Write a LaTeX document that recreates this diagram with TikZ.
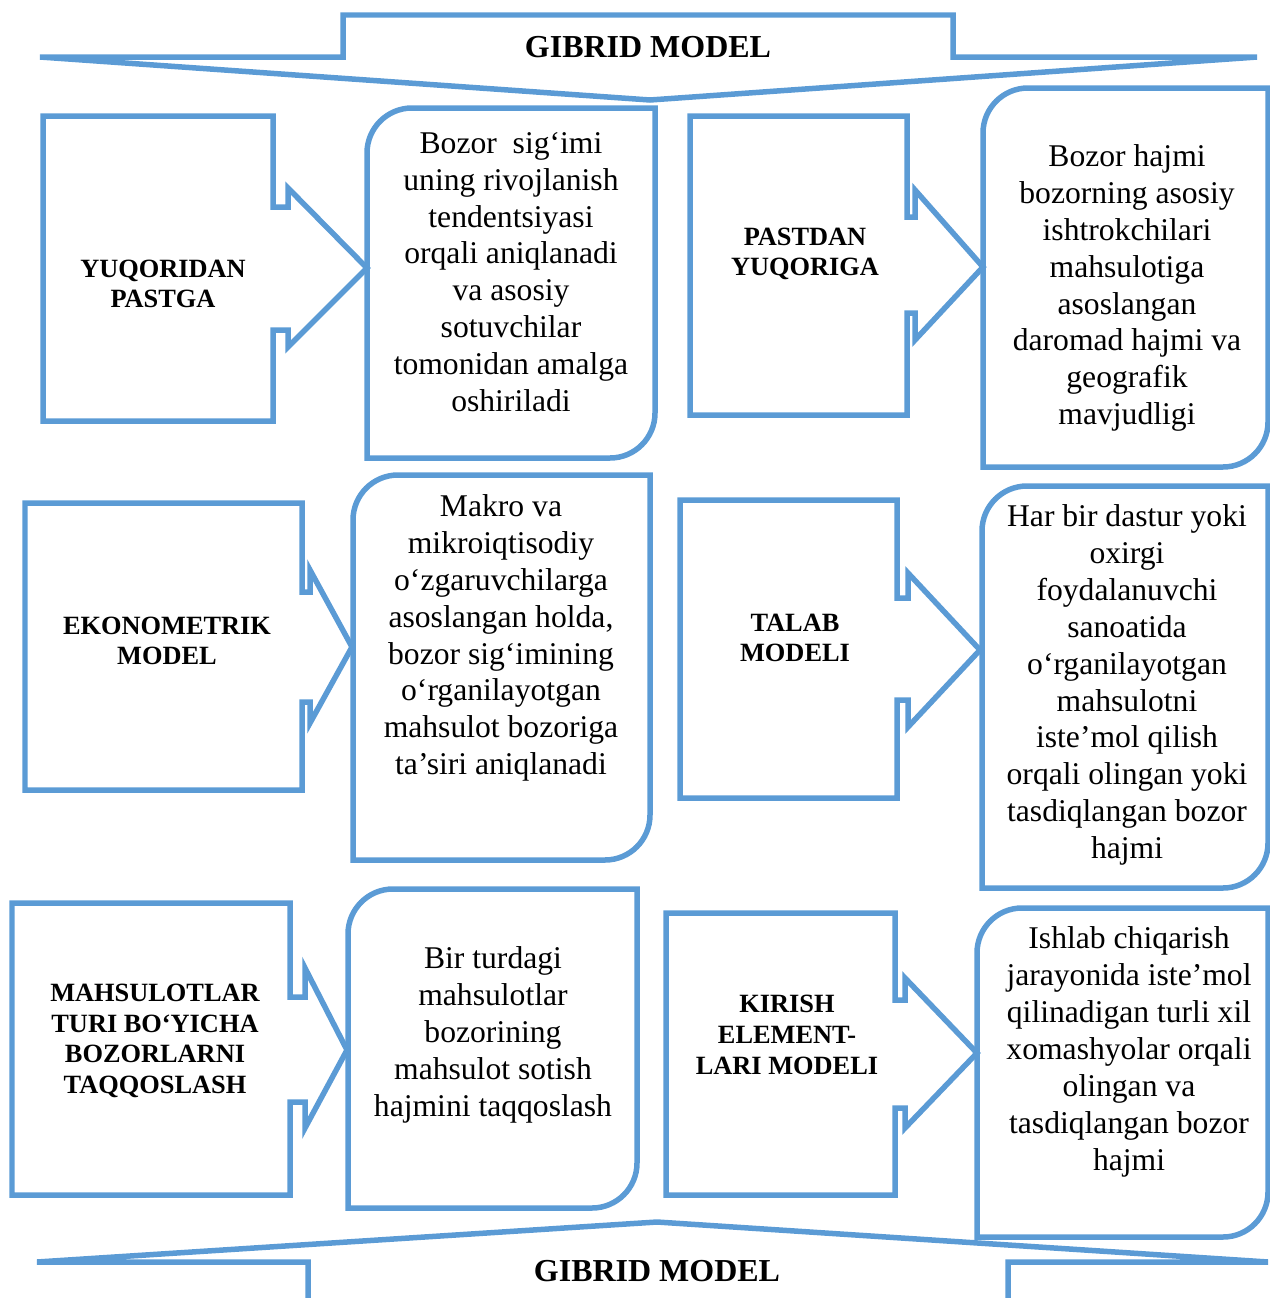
\documentclass[tikz,border=0pt]{standalone}
\usepackage{fontspec}
\setmainfont{Liberation Serif}
\definecolor{boxblue}{RGB}{91,155,213}
\begin{document}
\begin{tikzpicture}[x=0.02cm,y=-0.02cm]
    \tikzstyle{every node}+=[inner sep=0pt, align=center]
    \tikzstyle{outline}=[draw=boxblue, line width=1.1mm]
    \tikzstyle{body}=[font=\fontsize{18}{21}\selectfont]
    \tikzstyle{head}=[font=\fontsize{15}{17.5}\selectfont\bfseries]
    \tikzstyle{banner}=[font=\fontsize{18.2}{22}\selectfont\bfseries]
    \useasboundingbox (0,0) rectangle (1270,1298);
    \clip (0,0) rectangle (1270,1298);
    % top banner
    \draw [outline] (40,57) -- (343,57) -- (343,15) -- (953,15) -- (953,57) -- (1257,57) -- (650,100) -- cycle;
    \node [banner] (gibridtop) at (648,47) {GIBRID MODEL};
    % row 1
    \draw [outline] (43,116) -- (273,116) -- (273,207) -- (288,207) -- (288,188) -- (367,268) -- (288,347) -- (288,330) -- (273,330) -- (273,421) -- (43,421) -- cycle;
    \node [head] (yuqori) at (163,284) {YUQORIDAN\\PASTGA};
    \draw [outline] (655,108) -- (655,280) [rounded corners=0.9cm] -- (655,458) -- (510,458) [sharp corners] -- (367,458) -- (367,280) [rounded corners=0.9cm] -- (367,108) -- (510,108) [sharp corners] -- cycle;
    \node [body] (yuqoritxt) at (511,272) {Bozor~ sig‘imi\\uning rivojlanish\\tendentsiyasi\\orqali aniqlanadi\\va asosiy\\sotuvchilar\\tomonidan amalga\\oshiriladi};
    \draw [outline] (690,116) -- (907,116) -- (907,217) -- (915,217) -- (915,190) -- (983,267) -- (915,340) -- (915,313) -- (907,313) -- (907,415) -- (690,415) -- cycle;
    \node [head] (pastdan) at (805,254) {PASTDAN\\YUQORIGA};
    \draw [outline] (1268,88) -- (1268,280) [rounded corners=0.9cm] -- (1268,467) -- (1120,467) [sharp corners] -- (983,467) -- (983,280) [rounded corners=0.9cm] -- (983,88) -- (1120,88) [sharp corners] -- cycle;
    \node [body] (pastdantxt) at (1127,288) {Bozor hajmi\\bozorning asosiy\\ishtrokchilari\\mahsulotiga\\asoslangan\\daromad hajmi va\\geografik\\mavjudligi};
    % row 2
    \draw [outline] (25,503) -- (302,503) -- (302,592) -- (310,592) -- (310,570) -- (352,647) -- (310,723) -- (310,702) -- (302,702) -- (302,790) -- (25,790) -- cycle;
    \node [head] (ekonom) at (167,641) {EKONOMETRIK\\MODEL};
    \draw [outline] (650,475) -- (650,660) [rounded corners=0.9cm] -- (650,860) -- (500,860) [sharp corners] -- (353,860) -- (353,660) [rounded corners=0.9cm] -- (353,475) -- (500,475) [sharp corners] -- cycle;
    \node [body] (ekonomtxt) at (501,638) {Makro va\\mikroiqtisodiy\\o‘zgaruvchilarga\\asoslangan holda,\\bozor sig‘imining\\o‘rganilayotgan\\mahsulot bozoriga\\ta’siri aniqlanadi};
    \draw [outline] (680,500) -- (897,500) -- (897,598) -- (908,598) -- (908,573) -- (980,650) -- (908,727) -- (908,700) -- (897,700) -- (897,798) -- (680,798) -- cycle;
    \node [head] (talab) at (795,638) {TALAB\\MODELI};
    \draw [outline] (1268,486) -- (1268,680) [rounded corners=0.9cm] -- (1268,888) -- (1120,888) [sharp corners] -- (982,888) -- (982,680) [rounded corners=0.9cm] -- (982,486) -- (1120,486) [sharp corners] -- cycle;
    \node [body] (talabtxt) at (1127,685) {Har bir dastur yoki\\oxirgi\\foydalanuvchi\\sanoatida\\o‘rganilayotgan\\mahsulotni\\iste’mol qilish\\orqali olingan yoki\\tasdiqlangan bozor\\hajmi};
    % row 3
    \draw [outline] (12,903) -- (290,903) -- (290,997) -- (305,997) -- (305,968) -- (347,1050) -- (305,1128) -- (305,1102) -- (290,1102) -- (290,1195) -- (12,1195) -- cycle;
    \node [head] (mahsulot) at (155,1041) {MAHSULOTLAR\\TURI BO‘YICHA\\BOZORLARNI\\TAQQOSLASH};
    \draw [outline] (637,889) -- (637,1050) [rounded corners=0.9cm] -- (637,1208) -- (490,1208) [sharp corners] -- (348,1208) -- (348,1050) [rounded corners=0.9cm] -- (348,889) -- (490,889) [sharp corners] -- cycle;
    \node [body] (mahsulottxt) at (493,1035) {Bir turdagi\\mahsulotlar\\bozorining\\mahsulot sotish\\hajmini taqqoslash};
    \draw [outline] (666,913) -- (895,913) -- (895,1000) -- (905,1000) -- (905,978) -- (977,1053) -- (905,1128) -- (905,1108) -- (895,1108) -- (895,1195) -- (666,1195) -- cycle;
    \node [head] (kirish) at (787,1035) {KIRISH\\ELEMENT-\\LARI MODELI};
    \draw [outline] (1268,908) -- (1268,1070) [rounded corners=0.9cm] -- (1268,1237) -- (1120,1237) [sharp corners] -- (977,1237) -- (977,1070) [rounded corners=0.9cm] -- (977,908) -- (1120,908) [sharp corners] -- cycle;
    \node [body] (kirishtxt) at (1129,1052) {Ishlab chiqarish\\jarayonida iste’mol\\qilinadigan turli xil\\xomashyolar orqali\\olingan va\\tasdiqlangan bozor\\hajmi};
    % bottom banner
    \draw [outline] (308,1310) -- (308,1262) -- (37,1262) -- (657,1222) -- (1268,1262) -- (1008,1262) -- (1008,1310);
    \node [banner] (gibridbot) at (657,1271) {GIBRID MODEL};
\end{tikzpicture}
\end{document}
